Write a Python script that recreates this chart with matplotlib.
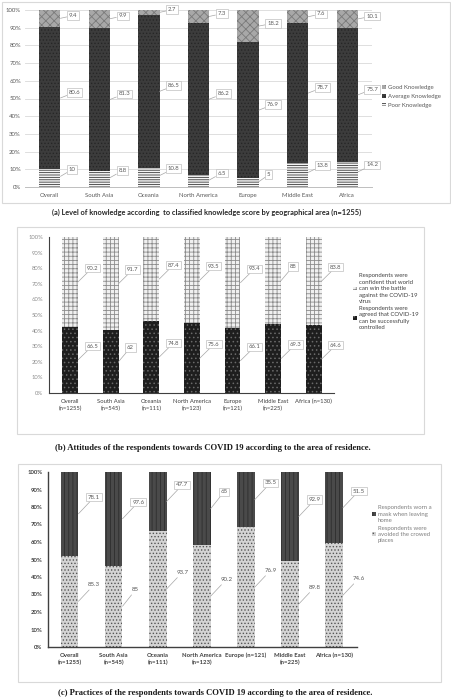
import numpy as np
import matplotlib.pyplot as plt
from matplotlib.patches import Rectangle, Patch

plt.rcParams['hatch.linewidth'] = 0.6

# (a) knowledge by area
areas_a = ['Overall', 'South Asia', 'Oceania', 'North America', 'Europe', 'Middle East', 'Africa']
poor = [10, 8.8, 10.8, 6.5, 5, 13.8, 14.2]
average = [80.6, 81.3, 86.5, 86.2, 76.9, 78.7, 75.7]
good = [9.4, 9.9, 2.7, 7.3, 18.2, 7.6, 10.1]

# (b) attitudes
areas_b = ['Overall\n(n=1255)', 'South Asia\n(n=545)', 'Oceania\n(n=111)', 'North America\n(n=123)',
           'Europe\n(n=121)', 'Middle East\n(n=225)', 'Africa (n=130)']
agreed = [66.5, 62, 74.8, 75.6, 66.1, 69.3, 64.6]
confident = [90.2, 91.7, 87.4, 93.5, 93.4, 88, 83.8]

# (c) practices
areas_c = ['Overall\n(n=1255)', 'South Asia\n(n=545)', 'Oceania\n(n=111)', 'North America\n(n=123)',
           'Europe (n=121)', 'Middle East\n(n=225)', 'Africa (n=130)']
avoided = [85.3, 85, 93.7, 90.2, 76.9, 89.8, 74.6]
mask = [78.1, 97.6, 47.7, 65, 35.5, 92.9, 51.5]

W, H = 451, 700
fig = plt.figure(figsize=(W / 100, H / 100), dpi=100)
SANS = ['Lato', 'DejaVu Sans']
SERIF = ['Liberation Serif', 'DejaVu Serif']
plt.rcParams['font.family'] = SANS


def px_axes(x0, y0, x1, y1):
    return fig.add_axes([x0 / W, 1 - y1 / H, (x1 - x0) / W, (y1 - y0) / H])


def frame(x0, y0, x1, y1):
    fig.patches.append(Rectangle((x0 / W, 1 - y1 / H), (x1 - x0) / W, (y1 - y0) / H,
                                 transform=fig.transFigure, fill=False,
                                 edgecolor='#d9d9d9', lw=0.8))


def callout(ax, x, y, text, dx, dy, box=True, size=4.3):
    bb = dict(boxstyle='square,pad=0.3', fc='white', ec='#bfbfbf', lw=0.5) if box else None
    ax.annotate(text, xy=(x, y), xytext=(dx, dy), textcoords='offset points',
                fontsize=size, color='#595959', va='center', ha='left', bbox=bb,
                arrowprops=dict(arrowstyle='-', color='#a6a6a6', lw=0.5,
                                shrinkA=0, shrinkB=0), zorder=5)


def stack_pct(series):
    arr = np.array(series, dtype=float)
    return arr / arr.sum(axis=0) * 100


# ---------- panel (a) ----------
frame(2, 2, 450, 203)
ax = px_axes(25, 10, 372, 187)
x = np.arange(len(areas_a))
pa = stack_pct([poor, average, good])
w = 0.43
styles_a = [dict(color='#f4f4f4', edgecolor='#3a3a3a', hatch='-------'),
            dict(color='#3c3c3c', edgecolor='#262626', hatch='.....'),
            dict(color='#a8a8a8', edgecolor='#7a7a7a', hatch='xxxx')]
raw_a = [poor, average, good]
bottom = np.zeros(len(x))
offs_a = [(6, 5), (6, 4), (6, 2)]
for k in range(3):
    ax.bar(x, pa[k], w, bottom=bottom, lw=0, **styles_a[k])
    for i in range(len(x)):
        cy = bottom[i] + pa[k][i] / 2
        yy = cy if k != 0 else bottom[i] + pa[k][i] * 0.6
        callout(ax, x[i] + w / 2, yy, f'{raw_a[k][i]:g}', *offs_a[k])
    bottom += pa[k]
ax.set_xlim(-0.5, 6.5)
ax.set_ylim(0, 100)
ax.set_yticks(np.arange(0, 101, 10))
ax.set_yticklabels([f'{v}%' for v in range(0, 101, 10)])
ax.yaxis.grid(True, color='#d9d9d9', lw=0.6)
ax.set_axisbelow(True)
ax.set_xticks(x)
ax.set_xticklabels(areas_a)
for s in ['top', 'right', 'left']:
    ax.spines[s].set_visible(False)
ax.spines['bottom'].set_color('#bfbfbf')
ax.spines['bottom'].set_linewidth(0.7)
ax.tick_params(length=0, labelsize=4.3, labelcolor='#595959', pad=4)
ax.tick_params(axis='y', pad=3)
handles_a = [Patch(facecolor=styles_a[k]['color'], edgecolor=styles_a[k]['edgecolor'],
                   hatch=styles_a[k]['hatch'], lw=0) for k in [2, 1, 0]]
leg = fig.legend(handles_a, ['Good Knowledge', 'Average Knowledge', 'Poor Knowledge'],
                 loc='upper left', bbox_to_anchor=(380 / W, 1 - 83 / H), frameon=False,
                 fontsize=4.3, handlelength=0.6, handleheight=0.6, handletextpad=0.4,
                 labelspacing=0.6, borderaxespad=0)
for t in leg.get_texts():
    t.set_color('#595959')
fig.text(207 / W, 1 - 212 / H,
         '(a) Level of knowledge according  to classified knowledge score by geographical area (n=1255)',
         ha='center', va='center', fontsize=5.3, fontweight='bold', color='#262626')

# ---------- panel (b) ----------
frame(17, 227, 424, 434)
ax = px_axes(49, 237, 334, 393)
pb = stack_pct([agreed, confident])
w = 0.39
styles_b = [dict(color='#1e1e1e', edgecolor='#6a6a6a', hatch='....'),
            dict(color='#f0f0f0', edgecolor='#8c8c8c', hatch='++++')]
raw_b = [agreed, confident]
bottom = np.zeros(len(x))
offs_b = [(6, 10), (6, 10)]
for k in range(2):
    ax.bar(x, pb[k], w, bottom=bottom, lw=0, **styles_b[k])
    for i in range(len(x)):
        cy = bottom[i] + pb[k][i] / 2
        callout(ax, x[i] + w / 2, cy, f'{raw_b[k][i]:g}', *offs_b[k], size=4.2)
    bottom += pb[k]
ax.set_xlim(-0.52, 6.5)
ax.set_ylim(0, 100)
ax.set_yticks(np.arange(0, 101, 10))
ax.set_yticklabels([f'{v}%' for v in range(0, 101, 10)])
ax.set_xticks(x)
ax.set_xticklabels(areas_b, linespacing=1.5)
for s in ['top', 'right']:
    ax.spines[s].set_visible(False)
for s in ['left', 'bottom']:
    ax.spines[s].set_color('#404040')
    ax.spines[s].set_linewidth(0.8)
ax.tick_params(length=0, labelsize=4.2, pad=4)
ax.tick_params(axis='y', labelcolor='#8c8c8c', pad=4)
ax.tick_params(axis='x', labelcolor='#404040')
handles_b = [Patch(facecolor=styles_b[k]['color'], edgecolor=styles_b[k]['edgecolor'],
                   hatch=styles_b[k]['hatch'], lw=0) for k in [1, 0]]
leg = fig.legend(handles_b, ['Respondents were\nconfident that world\ncan win the battle\nagainst the COVID-19\nvirus',
                             'Respondents were\nagreed that COVID-19\ncan be successfully\ncontrolled'],
                 loc='upper left', bbox_to_anchor=(351 / W, 1 - 271 / H), frameon=False,
                 fontsize=4.3, handlelength=0.6, handleheight=0.6, handletextpad=0.3,
                 labelspacing=0.3, borderaxespad=0)
for t in leg.get_texts():
    t.set_color('#404040')
    t.set_linespacing(1.35)
fig.text(213 / W, 1 - 448 / H,
         '(b) Attitudes of the respondents towards COVID 19 according to the area of residence.',
         ha='center', va='center', fontsize=6.2, fontweight='bold', family=SERIF, color='#1a1a1a')

# ---------- panel (c) ----------
frame(18, 464, 441, 682)
ax = px_axes(48, 472, 357, 647)
pc = stack_pct([avoided, mask])
w = 0.4
styles_c = [dict(color='#d4d4d4', edgecolor='#555555', hatch='.....'),
            dict(color='#4a4a4a', edgecolor='#2e2e2e', hatch='||||')]
raw_c = [avoided, mask]
bottom = np.zeros(len(x))
offs_c = [(7, 12), (7, 12)]
for k in range(2):
    ax.bar(x, pc[k], w, bottom=bottom, lw=0, **styles_c[k])
    for i in range(len(x)):
        cy = bottom[i] + pc[k][i] / 2
        callout(ax, x[i] + w / 2, cy, f'{raw_c[k][i]:g}', *offs_c[k], box=(k == 1), size=4.4)
    bottom += pc[k]
ax.set_xlim(-0.49, 6.52)
ax.set_ylim(0, 100)
ax.set_yticks(np.arange(0, 101, 10))
ax.set_yticklabels([f'{v}%' for v in range(0, 101, 10)])
ax.set_xticks(x)
ax.set_xticklabels(areas_c, linespacing=1.4, fontweight='bold')
for t in ax.get_yticklabels():
    t.set_fontweight('bold')
for s in ['top', 'right']:
    ax.spines[s].set_visible(False)
for s in ['left', 'bottom']:
    ax.spines[s].set_color('#404040')
    ax.spines[s].set_linewidth(1.0)
ax.tick_params(length=0, labelsize=4.3, labelcolor='#404040', pad=4)
handles_c = [Patch(facecolor=styles_c[k]['color'], edgecolor=styles_c[k]['edgecolor'],
                   hatch=styles_c[k]['hatch'], lw=0) for k in [1, 0]]
leg = fig.legend(handles_c, ['Respondents worn a\nmask when leaving\nhome',
                             'Respondents were\navoided the crowed\nplaces'],
                 loc='upper left', bbox_to_anchor=(370 / W, 1 - 503 / H), frameon=False,
                 fontsize=4.3, handlelength=0.6, handleheight=0.6, handletextpad=0.3,
                 labelspacing=0.4, borderaxespad=0)
for t in leg.get_texts():
    t.set_color('#7f7f7f')
    t.set_linespacing(1.35)
fig.text(215 / W, 1 - 693 / H,
         '(c) Practices of the respondents towards COVID 19 according to the area of residence.',
         ha='center', va='center', fontsize=6.2, fontweight='bold', family=SERIF, color='#1a1a1a')

fig.savefig('out.png', dpi=100, facecolor='white')
